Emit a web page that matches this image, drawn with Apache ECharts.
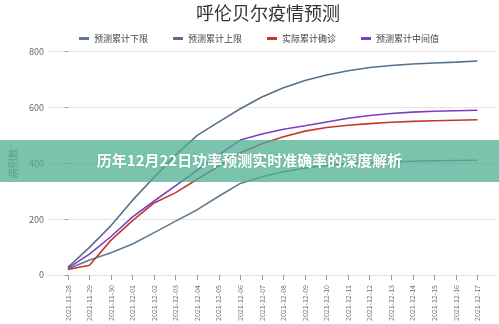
<!DOCTYPE html>
<html>
<head>
<meta charset="utf-8">
<script src="https://cdn.jsdelivr.net/npm/echarts@6/dist/echarts.min.js"></script>
<style>
  html, body { margin: 0; padding: 0; background: #ffffff; }
  #chart { width: 499px; height: 324px; }
</style>
</head>
<body>
<div id="chart"></div>
<script>
// Dates along the x axis
const dates = [
  '2021-11-28', '2021-11-29', '2021-11-30', '2021-12-01', '2021-12-02',
  '2021-12-03', '2021-12-04', '2021-12-05', '2021-12-06', '2021-12-07',
  '2021-12-08', '2021-12-09', '2021-12-10', '2021-12-11', '2021-12-12',
  '2021-12-13', '2021-12-14', '2021-12-15', '2021-12-16', '2021-12-17'
];

// Cumulative case counts per series
const lowerBound = [22, 54, 80, 111, 152, 193, 234, 282, 328, 352, 370, 383, 392, 398, 402, 405, 407, 409, 410, 411];
const upperBound = [28, 99, 177, 268, 350, 430, 500, 548, 595, 637, 670, 696, 716, 731, 743, 750, 755, 759, 762, 766];
const actual     = [20, 35, 125, 195, 258, 295, 343, 390, 438, 470, 495, 515, 528, 536, 542, 547, 550, 552, 554, 556];
const median     = [25, 75, 138, 208, 265, 320, 375, 430, 483, 505, 522, 534, 548, 561, 571, 578, 583, 586, 588, 590];

const yTicks = [0, 200, 400, 600, 800];

const seriesNames = ['预测累计下限', '预测累计上限', '实际累计确诊', '预测累计中间值'];
const seriesColors = ['#5f7b94', '#56708a', '#c4372f', '#7b3fc0'];
const seriesData = [lowerBound, upperBound, actual, median];

const idx = dates.map((d, i) => i);
const toPairs = arr => arr.map((v, i) => [i, v]);

const FONT = '"Noto Sans CJK SC", "Noto Sans", sans-serif';

const chart = echarts.init(document.getElementById('chart'), null, { renderer: 'canvas' });

chart.setOption({
  backgroundColor: '#ffffff',
  animation: false,
  title: {
    text: '呼伦贝尔疫情预测',
    left: 263, top: -1,
    textAlign: 'center',
    textStyle: { fontSize: 18, fontWeight: 'normal', color: '#333', fontFamily: FONT }
  },
  legend: {
    left: 74, top: 29,
    itemGap: 25,
    itemWidth: 10, itemHeight: 3,
    icon: 'rect',
    textStyle: { fontSize: 9, color: '#444', fontFamily: FONT },
    data: seriesNames
  },
  grid: { left: 31, right: 3, top: 51.5, bottom: 46, containLabel: false },
  xAxis: {
    type: 'value',
    min: -0.93, max: 19.86,
    axisLine: { show: true, lineStyle: { color: '#e2e2e2' } },
    axisTick: { show: true, length: 5, customValues: idx, lineStyle: { color: '#999' } },
    splitLine: { show: false },
    axisLabel: {
      customValues: idx,
      rotate: 90,
      margin: 10,
      fontSize: 7,
      color: '#6f6f6f',
      fontFamily: FONT,
      formatter: v => dates[Math.round(v)] || ''
    }
  },
  yAxis: {
    type: 'value',
    min: yTicks[0], max: yTicks[yTicks.length - 1], interval: 200,
    name: '病例数',
    nameLocation: 'middle',
    nameGap: 23,
    nameTextStyle: { fontSize: 10, color: '#777', fontFamily: FONT },
    axisLine: { show: true, lineStyle: { color: 'rgba(0,0,0,0)' } },
    axisTick: { show: true, length: 3, lineStyle: { color: '#999' } },
    axisLabel: { fontSize: 9, color: '#666', margin: 4, fontFamily: FONT },
    splitLine: { lineStyle: { color: '#e4e4e4', width: 1 } }
  },
  series: seriesNames.map((name, k) => ({
    name: name,
    type: 'line',
    data: toPairs(seriesData[k]),
    showSymbol: false,
    symbol: 'none',
    color: seriesColors[k],
    lineStyle: { width: 1.6, color: seriesColors[k] },
    z: 2 + k
  })),
  graphic: [
    {
      type: 'rect',
      left: 0, top: 140,
      shape: { width: 499, height: 42 },
      style: { fill: 'rgba(78,176,146,0.75)' },
      z: 100
    },
    {
      type: 'text',
      left: 'center', top: 153,
      style: {
        text: '历年12月22日功率预测实时准确率的深度解析',
        fill: '#ffffff',
        font: 'bold 15px "Noto Sans CJK SC", sans-serif',
        textShadowColor: 'rgba(0,0,0,0.15)',
        textShadowBlur: 2
      },
      z: 101
    }
  ]
});
</script>
</body>
</html>
